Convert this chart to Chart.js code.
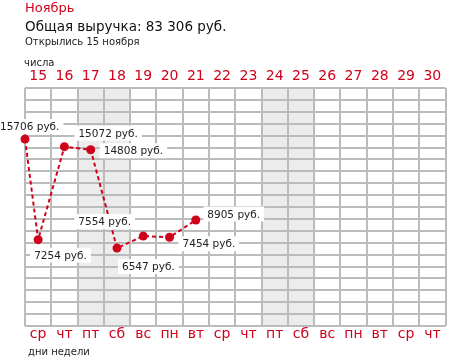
<!DOCTYPE html>
<html>
<head>
<meta charset="utf-8">
<script src="https://cdn.jsdelivr.net/npm/chart.js@4"></script>
<style>
html,body{margin:0;padding:0;background:#fff;}
#wrap{width:450px;height:358px;position:relative;}
</style>
</head>
<body>
<div id="wrap"><canvas id="c" width="450" height="358"></canvas></div>
<script>
// ---- data ----
const monthTitle = 'Ноябрь';
const totalText = 'Общая выручка: 83 306 руб.';
const openedText = 'Открылись 15 ноября';
const topAxisTitle = 'числа';
const bottomAxisTitle = 'дни недели';
const days = [15,16,17,18,19,20,21,22,23,24,25,26,27,28,29,30];
const weekdays = ['ср','чт','пт','сб','вс','пн','вт','ср','чт','пт','сб','вс','пн','вт','ср','чт'];
const pointDays = [14.5, 15, 16, 17, 18, 19, 20, 21];
const revenue = [15706, 7254, 15072, 14808, 6547, 7554, 7454, 8905];
const yTicks = [0, 20000, 1000]; // min, max, step

// ---- style ----
const RED = '#d0021b';
const GRID = '#bbbbbb';
const SHADE = '#ececec';
const FONT = "'DejaVu Sans', sans-serif";
// label offsets [dx to text left, dy to baseline] relative to point
const labelOffsets = [[-25,-9],[-4,19],[14,-10],[13,4.5],[5,22],[-65,-11],[13,10],[11.5,-2.5]];

const shadePlugin = {
  id: 'shade',
  beforeDraw(chart) {
    const {ctx, chartArea} = chart;
    const x = chart.scales.x;
    ctx.save();
    ctx.fillStyle = SHADE;
    weekdays.forEach((w, i) => {
      if (w === 'пт' || w === 'сб') {
        const l = x.getPixelForValue(days[i] - 0.5);
        const r = x.getPixelForValue(days[i] + 0.5);
        ctx.fillRect(l, chartArea.top, r - l, chartArea.bottom - chartArea.top);
      }
    });
    ctx.restore();
  }
};

const labelPlugin = {
  id: 'labels',
  afterDatasetsDraw(chart) {
    const {ctx} = chart;
    const meta = chart.getDatasetMeta(0);
    ctx.save();
    ctx.font = '10.5px ' + FONT;
    ctx.textBaseline = 'alphabetic';
    ctx.textAlign = 'left';
    meta.data.forEach((pt, i) => {
      const txt = revenue[i] + ' руб.';
      const tx = pt.x + labelOffsets[i][0];
      const ty = pt.y + labelOffsets[i][1];
      const w = ctx.measureText(txt).width;
      ctx.fillStyle = '#ffffff';
      ctx.fillRect(tx - 4, ty - 11, w + 8, 15);
      ctx.fillStyle = '#222222';
      ctx.fillText(txt, tx, ty);
    });
    // redraw points on top
    ctx.restore();
  },
  afterDraw(chart) {
    const {ctx} = chart;
    ctx.save();
    ctx.textAlign = 'left';
    ctx.textBaseline = 'alphabetic';
    ctx.fillStyle = RED;
    ctx.font = '13px ' + FONT;
    ctx.fillText(monthTitle, 25, 12);
    ctx.fillStyle = '#111111';
    ctx.font = '13.5px ' + FONT;
    ctx.fillText(totalText, 25, 31);
    ctx.fillStyle = '#222222';
    ctx.font = '10px ' + FONT;
    ctx.fillText(openedText, 25, 45);
    ctx.fillText(topAxisTitle, 24, 66);
    ctx.fillText(bottomAxisTitle, 28, 355);
    ctx.restore();
  }
};

new Chart(document.getElementById('c'), {
  type: 'line',
  data: {
    datasets: [{
      data: pointDays.map((d, i) => ({x: d, y: revenue[i]})),
      borderColor: RED,
      backgroundColor: RED,
      borderWidth: 2,
      borderDash: [4, 3],
      pointRadius: 4.5,
      pointBorderWidth: 0,
      pointBackgroundColor: RED,
      tension: 0,
      fill: false,
      clip: false
    }]
  },
  options: {
    responsive: false,
    animation: false,
    devicePixelRatio: 1,
    layout: {padding: {left: 25, right: 2, top: 66, bottom: 12}},
    plugins: {legend: {display: false}, tooltip: {enabled: false}, title: {display: false}},
    scales: {
      x: {
        type: 'linear',
        position: 'bottom',
        min: days[0] - 0.5,
        max: days[days.length - 1] + 0.5,
        afterBuildTicks: s => { s.ticks = days.map(d => ({value: d})); },
        afterFit: s => { s.height = 20; },
        grid: {offset: true, color: GRID, lineWidth: 2, drawTicks: false},
        border: {display: false},
        ticks: {
          autoSkip: false, maxRotation: 0, padding: 0,
          color: RED, font: {family: FONT, size: 14},
          callback: (v, i) => weekdays[i]
        }
      },
      xTop: {
        type: 'linear',
        position: 'top',
        min: days[0] - 0.5,
        max: days[days.length - 1] + 0.5,
        afterBuildTicks: s => { s.ticks = days.map(d => ({value: d})); },
        afterFit: s => { s.height = 22; },
        grid: {display: false, drawTicks: false},
        border: {display: false},
        ticks: {
          autoSkip: false, maxRotation: 0, padding: 3,
          color: RED, font: {family: FONT, size: 14},
          callback: (v, i) => String(days[i])
        }
      },
      y: {
        type: 'linear',
        min: yTicks[0],
        max: yTicks[1],
        afterFit: s => { s.width = 0; },
        ticks: {display: false, stepSize: yTicks[2]},
        grid: {color: GRID, lineWidth: 2, drawTicks: false},
        border: {display: false}
      }
    }
  },
  plugins: [shadePlugin, labelPlugin]
});
</script>
</body>
</html>
